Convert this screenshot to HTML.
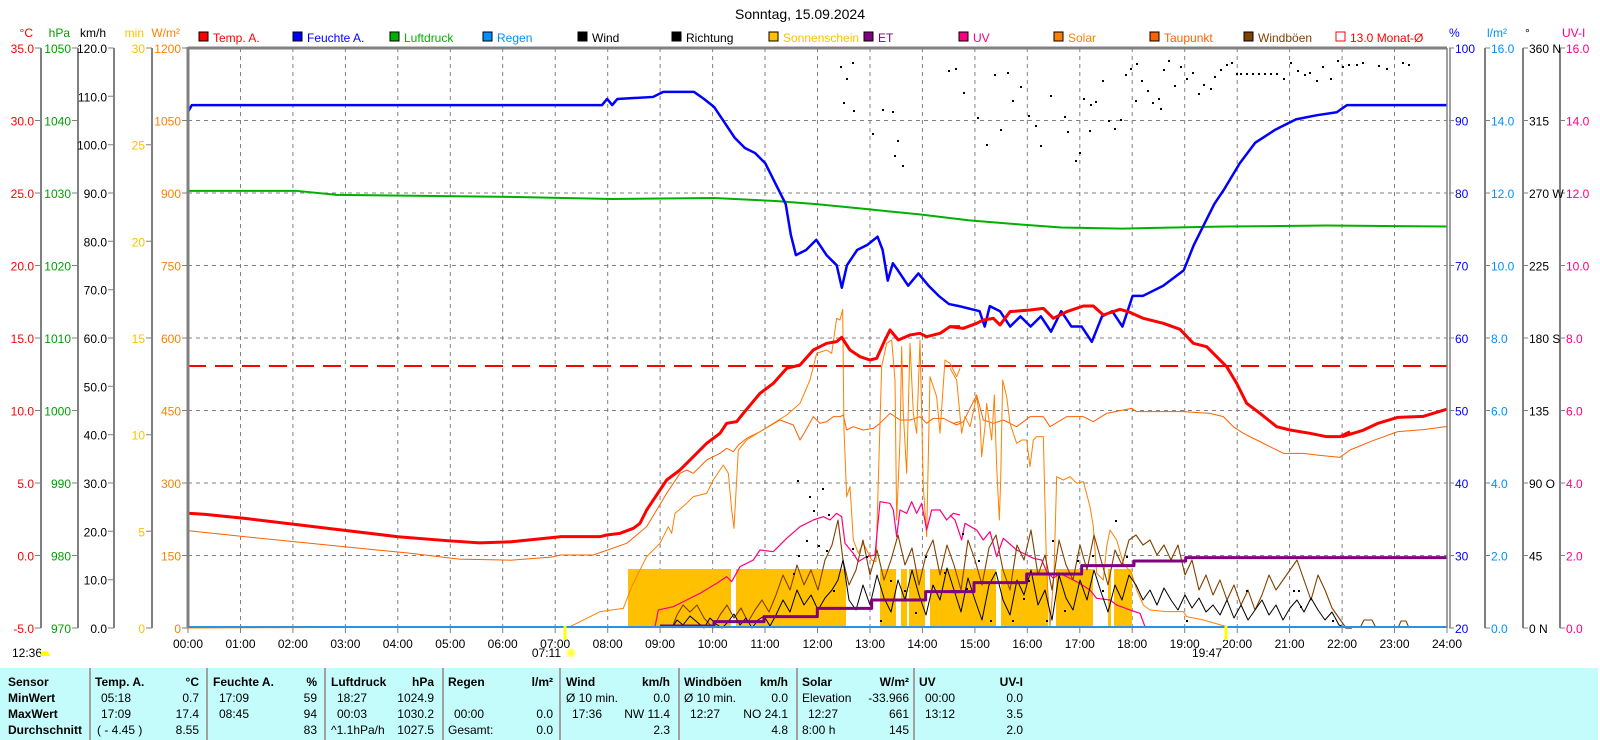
<!DOCTYPE html>
<html><head><meta charset="utf-8">
<style>
body{margin:0;background:#fff;width:1600px;height:740px;overflow:hidden;position:relative;font-family:"Liberation Sans",sans-serif;}
#tbl{position:absolute;left:0;top:668px;width:1598px;height:72px;background:#c4fcfc;}
.t{position:absolute;font-size:12px;white-space:nowrap;line-height:14px;color:#000}
.b{font-weight:bold}
.sep{position:absolute;top:0;width:2px;height:72px;background:#a0a0a0}
svg text{font-family:"Liberation Sans",sans-serif;font-size:12px}
polyline{fill:none;stroke-linejoin:round;vector-effect:non-scaling-stroke}
</style></head><body>
<svg width="1600" height="668" style="position:absolute;left:0;top:0">
<text x="800" y="19" text-anchor="middle" style="font-size:14px">Sonntag, 15.09.2024</text>
<g stroke="#000" stroke-width="1">
<rect x="199" y="32" width="9" height="9" fill="#ff0000"/><rect x="293" y="32" width="9" height="9" fill="#0000ff"/><rect x="390" y="32" width="9" height="9" fill="#00b000"/><rect x="483" y="32" width="9" height="9" fill="#0090ff"/><rect x="578" y="32" width="9" height="9" fill="#000"/><rect x="672" y="32" width="9" height="9" fill="#000"/><rect x="769" y="32" width="9" height="9" fill="#ffc000"/><rect x="864" y="32" width="9" height="9" fill="#800080"/><rect x="959" y="32" width="9" height="9" fill="#ff0080"/><rect x="1054" y="32" width="9" height="9" fill="#ff8000"/><rect x="1150" y="32" width="9" height="9" fill="#ff6000"/><rect x="1244" y="32" width="9" height="9" fill="#804000"/><rect x="1336" y="32" width="9" height="9" fill="#fff" stroke="#ff0000"/>
</g>
<text x="213" y="42" fill="#ff0000">Temp. A.</text><text x="307" y="42" fill="#0000ff">Feuchte A.</text><text x="404" y="42" fill="#00b000">Luftdruck</text><text x="497" y="42" fill="#0090ff">Regen</text><text x="592" y="42">Wind</text><text x="686" y="42">Richtung</text><text x="783" y="42" fill="#ffc000">Sonnenschein</text><text x="878" y="42" fill="#800080">ET</text><text x="973" y="42" fill="#ff0080">UV</text><text x="1068" y="42" fill="#ff8000">Solar</text><text x="1164" y="42" fill="#ff6000">Taupunkt</text><text x="1258" y="42" fill="#804000">Windböen</text><text x="1350" y="42" fill="#ff0000">13.0 Monat-Ø</text>

<g stroke="#808080" stroke-dasharray="4,4" stroke-width="1">
<path d="M188 120.5H1447M188 193H1447M188 265.5H1447M188 338H1447M188 410.5H1447M188 483H1447M188 555.5H1447"/>
<path d="M240.5 48V628M292.9 48V628M345.4 48V628M397.8 48V628M450.3 48V628M502.7 48V628M555.2 48V628M607.7 48V628M660.1 48V628M712.6 48V628M765 48V628M817.5 48V628M870 48V628M922.4 48V628M974.9 48V628M1027.3 48V628M1079.8 48V628M1132.2 48V628M1184.7 48V628M1237.2 48V628M1289.6 48V628M1342.1 48V628M1394.5 48V628"/>
</g>

<g stroke="#808080" stroke-width="2"><path d="M41 48V628M78 48V628M114 48V628M152 48V628M1485 48V628M1523 48V628M1560 48V628"/></g>
<g stroke="#808080" stroke-width="1">
<path d="M35 48H41M35 120.5H41M35 193H41M35 265.5H41M35 338H41M35 410.5H41M35 483H41M35 555.5H41M35 628H41"/>
<path d="M72 48H78M72 120.5H78M72 193H78M72 265.5H78M72 338H78M72 410.5H78M72 483H78M72 555.5H78M72 628H78"/>
<path d="M108 48H114M108 96.3H114M108 144.7H114M108 193H114M108 241.3H114M108 289.7H114M108 338H114M108 386.3H114M108 434.7H114M108 483H114M108 531.3H114M108 579.7H114M108 628H114"/>
<path d="M146 48H152M146 144.7H152M146 241.3H152M146 338H152M146 434.7H152M146 531.3H152M146 628H152"/>
<path d="M182 48H188M182 120.5H188M182 193H188M182 265.5H188M182 338H188M182 410.5H188M182 483H188M182 555.5H188M182 628H188"/>
<path d="M1449 48H1454M1449 120.5H1454M1449 193H1454M1449 265.5H1454M1449 338H1454M1449 410.5H1454M1449 483H1454M1449 555.5H1454M1449 628H1454"/>
<path d="M1485 48H1490M1485 120.5H1490M1485 193H1490M1485 265.5H1490M1485 338H1490M1485 410.5H1490M1485 483H1490M1485 555.5H1490M1485 628H1490"/>
<path d="M1523 48H1528M1523 120.5H1528M1523 193H1528M1523 265.5H1528M1523 338H1528M1523 410.5H1528M1523 483H1528M1523 555.5H1528M1523 628H1528"/>
<path d="M1560 48H1565M1560 120.5H1565M1560 193H1565M1560 265.5H1565M1560 338H1565M1560 410.5H1565M1560 483H1565M1560 555.5H1565M1560 628H1565"/>
<path d="M188 628v5M240.5 628v5M292.9 628v5M345.4 628v5M397.8 628v5M450.3 628v5M502.7 628v5M555.2 628v5M607.7 628v5M660.1 628v5M712.6 628v5M765 628v5M817.5 628v5M870 628v5M922.4 628v5M974.9 628v5M1027.3 628v5M1079.8 628v5M1132.2 628v5M1184.7 628v5M1237.2 628v5M1289.6 628v5M1342.1 628v5M1394.5 628v5M1447 628v5"/>
</g>
<g text-anchor="end">
<text x="33" y="37" fill="#ff0000">°C</text><text x="70" y="37" fill="#00a000">hPa</text><text x="106" y="37">km/h</text><text x="144" y="37" fill="#ffc000">min</text><text x="180" y="37" fill="#ff8000">W/m²</text>
<g fill="#ff0000"><text x="34" y="53">35.0</text><text x="34" y="125.5">30.0</text><text x="34" y="198">25.0</text><text x="34" y="270.5">20.0</text><text x="34" y="343">15.0</text><text x="34" y="415.5">10.0</text><text x="34" y="488">5.0</text><text x="34" y="560.5">0.0</text><text x="34" y="633">-5.0</text></g>
<g fill="#00a000"><text x="71" y="53">1050</text><text x="71" y="125.5">1040</text><text x="71" y="198">1030</text><text x="71" y="270.5">1020</text><text x="71" y="343">1010</text><text x="71" y="415.5">1000</text><text x="71" y="488">990</text><text x="71" y="560.5">980</text><text x="71" y="633">970</text></g>
<g fill="#000"><text x="107" y="53">120.0</text><text x="107" y="101.3">110.0</text><text x="107" y="149.7">100.0</text><text x="107" y="198">90.0</text><text x="107" y="246.3">80.0</text><text x="107" y="294.7">70.0</text><text x="107" y="343">60.0</text><text x="107" y="391.3">50.0</text><text x="107" y="439.7">40.0</text><text x="107" y="488">30.0</text><text x="107" y="536.3">20.0</text><text x="107" y="584.7">10.0</text><text x="107" y="633">0.0</text></g>
<g fill="#ffc000"><text x="145" y="53">30</text><text x="145" y="149.7">25</text><text x="145" y="246.3">20</text><text x="145" y="343">15</text><text x="145" y="439.7">10</text><text x="145" y="536.3">5</text><text x="145" y="633">0</text></g>
<g fill="#ff8000"><text x="181" y="53">1200</text><text x="181" y="125.5">1050</text><text x="181" y="198">900</text><text x="181" y="270.5">750</text><text x="181" y="343">600</text><text x="181" y="415.5">450</text><text x="181" y="488">300</text><text x="181" y="560.5">150</text><text x="181" y="633">0</text></g>
</g>
<text x="1449" y="37" fill="#0000ff">%</text><text x="1487" y="37" fill="#0090ff">l/m²</text><text x="1525" y="37">°</text><text x="1562" y="37" fill="#ff0080">UV-I</text>
<g fill="#0000ff"><text x="1455" y="53">100</text><text x="1455" y="125.5">90</text><text x="1455" y="198">80</text><text x="1455" y="270.5">70</text><text x="1455" y="343">60</text><text x="1455" y="415.5">50</text><text x="1455" y="488">40</text><text x="1455" y="560.5">30</text><text x="1455" y="633">20</text></g>
<g fill="#0090ff"><text x="1491" y="53">16.0</text><text x="1491" y="125.5">14.0</text><text x="1491" y="198">12.0</text><text x="1491" y="270.5">10.0</text><text x="1491" y="343">8.0</text><text x="1491" y="415.5">6.0</text><text x="1491" y="488">4.0</text><text x="1491" y="560.5">2.0</text><text x="1491" y="633">0.0</text></g>
<g fill="#000"><text x="1529" y="53">360 N</text><text x="1529" y="125.5">315</text><text x="1529" y="198">270 W</text><text x="1529" y="270.5">225</text><text x="1529" y="343">180 S</text><text x="1529" y="415.5">135</text><text x="1529" y="488">90  O</text><text x="1529" y="560.5">45</text><text x="1529" y="633">0   N</text></g>
<g fill="#ff0080"><text x="1566" y="53">16.0</text><text x="1566" y="125.5">14.0</text><text x="1566" y="198">12.0</text><text x="1566" y="270.5">10.0</text><text x="1566" y="343">8.0</text><text x="1566" y="415.5">6.0</text><text x="1566" y="488">4.0</text><text x="1566" y="560.5">2.0</text><text x="1566" y="633">0.0</text></g>
<g text-anchor="middle"><text x="188" y="648">00:00</text><text x="240.5" y="648">01:00</text><text x="292.9" y="648">02:00</text><text x="345.4" y="648">03:00</text><text x="397.8" y="648">04:00</text><text x="450.3" y="648">05:00</text><text x="502.7" y="648">06:00</text><text x="555.2" y="648">07:00</text><text x="607.7" y="648">08:00</text><text x="660.1" y="648">09:00</text><text x="712.6" y="648">10:00</text><text x="765" y="648">11:00</text><text x="817.5" y="648">12:00</text><text x="870" y="648">13:00</text><text x="922.4" y="648">14:00</text><text x="974.9" y="648">15:00</text><text x="1027.3" y="648">16:00</text><text x="1079.8" y="648">17:00</text><text x="1132.2" y="648">18:00</text><text x="1184.7" y="648">19:00</text><text x="1237.2" y="648">20:00</text><text x="1289.6" y="648">21:00</text><text x="1342.1" y="648">22:00</text><text x="1394.5" y="648">23:00</text><text x="1447" y="648">24:00</text></g>

<g fill="#ffc000">
<rect x="628" y="569" width="103" height="59"/><rect x="736" y="569" width="110" height="59"/><rect x="880" y="569" width="16" height="59"/><rect x="901" y="569" width="6" height="59"/><rect x="909" y="569" width="16" height="59"/><rect x="930" y="569" width="66" height="59"/><rect x="1001" y="569" width="47" height="59"/><rect x="1056" y="569" width="37" height="59"/><rect x="1108" y="569" width="3" height="59"/><rect x="1114" y="569" width="18" height="59"/>
</g>
<line x1="188" y1="366" x2="1447" y2="366" stroke="#ff0000" stroke-width="2" stroke-dasharray="18,9"/>

<g transform="scale(1.0204)">
<polyline stroke="#00b000" stroke-width="2" points="184,187 290,187 330,191 500,193 600,195 700,194 760,197 800,200 850,205 900,210 950,216 1000,220 1040,223 1100,224 1200,222 1300,221 1418,222"/>
<polyline stroke="#0000ff" stroke-width="2.5" points="184,110 188,103 590,103 595,97 600,103 605,97 640,95 650,90 680,90 690,97 700,105 710,120 720,135 730,145 740,150 750,160 760,180 770,200 775,230 780,250 790,245 800,235 810,250 820,260 825,282 830,260 840,245 850,240 860,232 865,245 870,275 875,258 880,265 890,280 900,268 910,280 920,290 930,298 940,300 960,305 965,320 970,300 980,305 990,320 1000,310 1010,320 1020,310 1030,325 1040,305 1050,320 1060,320 1070,335 1080,310 1090,305 1100,320 1110,290 1120,290 1140,280 1160,265 1170,240 1180,220 1190,200 1200,185 1215,160 1230,140 1250,127 1270,117 1290,113 1310,110 1320,103 1418,103"/>
<polyline stroke="#ff6000" stroke-width="1" points="184,520 250,527 300,532 350,537 400,542 450,548 500,549 540,546 549,544"/>
<polyline stroke="#ff6000" stroke-width="1" points="1323,441 1345,432 1370,423 1395,421 1418,418"/>
<polyline stroke="#ff0000" stroke-width="3" points="184,503 200,504 240,508 290,514 340,520 390,526 440,530 470,532 500,531 530,528 549,526"/>
<polyline stroke="#ff0000" stroke-width="3" points="1315,428 1335,422 1350,415 1370,409 1395,408 1418,401"/>
</g>

<g transform="translate(560,280) scale(0.33333)">
<polyline stroke="#ff6000" stroke-width="1" points="0,825 100,825 200,790 260,740 320,640 360,580 380,570 400,580 440,540 480,520 500,505 520,515 535,495 560,475 600,455 660,420 700,435 720,480 735,455 760,410 780,430 800,425 820,410 840,410 850,405 860,450 880,440 910,450 940,445 960,430 990,400 1020,420 1050,420 1080,410 1100,430 1120,415 1150,415 1180,430 1200,425"/>
<polyline stroke="#ff8000" stroke-width="1" points="-1116,1044 30,1040 120,995 190,985 215,920 260,830 300,790 325,740 335,760 345,700 380,670 400,650 440,640 460,600 490,555 505,580 515,690 522,745 530,600 535,510 560,480 600,455 640,430 680,405 720,370 750,300 770,220 800,210 815,220 830,115 840,120 848,88 852,450 860,650 870,620 880,780 895,820 910,790 920,810 935,840 948,845 955,600 965,260 980,190 995,180 1005,300 1010,720 1020,480 1025,200 1030,400 1040,580 1050,190 1060,400 1070,460 1080,180 1090,620 1100,770 1110,290 1130,350 1140,460 1155,240 1170,250 1190,290 1200,265"/>
<polyline stroke="#ff0080" stroke-width="1.2" points="285,1040 295,990 340,980 380,960 420,940 470,910 500,890 515,905 540,860 580,840 600,810 640,815 680,775 720,740 760,720 790,710 810,720 830,700 845,710 855,790 880,820 895,845 920,830 945,825 960,665 990,670 1000,690 1010,770 1020,690 1040,700 1055,665 1070,700 1085,670 1100,750 1115,690 1140,690 1160,720 1180,700 1200,705"/>
<polyline stroke="#ff0000" stroke-width="3" points="0,770 120,770 140,765 180,760 220,745 240,730 260,690 300,630 320,600 360,570 400,530 440,490 480,460 500,430 530,425 550,400 600,340 640,310 680,265 720,255 760,210 800,190 830,185 845,172 870,210 900,230 930,240 950,235 975,180 990,150 1015,180 1050,165 1080,160 1100,170 1140,160 1170,140 1200,140"/>
</g>
<g transform="translate(950,280) scale(0.33333)">
<polyline stroke="#ff6000" stroke-width="1" points="0,425 20,435 40,425 80,345 100,420 130,430 160,420 200,440 240,410 280,410 300,440 350,410 400,410 430,425 470,400 520,390 545,385 560,395 620,395 700,395 780,400 820,410 850,440 880,460 920,480 960,500 1000,520 1060,520 1100,525 1170,532 1200,510"/>
<polyline stroke="#ff8000" stroke-width="1" points="0,265 20,300 35,460 45,410 60,440 80,350 90,420 95,530 105,440 110,370 125,480 133,345 140,560 148,720 152,600 158,300 170,350 180,430 200,490 215,480 230,480 240,560 250,480 260,470 280,470 290,880 300,1040 312,880 320,590 340,600 360,590 380,610 400,605 420,680 430,740 440,880 460,900 470,800 480,750 500,780 520,850 545,880 560,930 580,975 600,990 650,995 700,995 710,1010 760,1020 830,1040"/>
<polyline stroke="#ff0080" stroke-width="1.2" points="0,705 15,720 35,780 45,730 80,750 100,780 120,755 140,830 160,775 200,810 230,825 250,835 275,840 290,875 310,895 330,880 380,905 420,930 440,955 480,960 500,975 540,990 570,1000 585,1040"/>
</g>

<polyline stroke="#804000" stroke-width="1.1" points="672,628 677,615 683,605 690,612 697,605 704,618 713,628 720,615 727,605 734,618 741,608 748,622 755,610 762,600 769,612 776,595 783,575 790,590 797,565 804,585 811,570 818,590 825,560 832,545 838,520 843,560 849,585 856,570 863,540 870,575 877,550 884,580 891,560 898,535 905,565 912,548 919,585 926,555 933,540 940,575 947,545 954,565 961,590 968,540 975,560 982,585 989,548 996,535 1003,570 1010,590 1017,545 1024,560 1031,530 1038,575 1045,555 1052,590 1059,540 1066,565 1073,580 1080,545 1087,570 1094,535 1101,560 1108,585 1115,550 1122,565 1129,540 1136,535 1143,545 1150,540 1157,555 1164,545 1171,560 1178,545 1185,575 1192,560 1199,590 1206,575 1213,595 1220,580 1227,600 1234,585 1241,605 1248,590 1255,610 1262,595 1269,575 1276,590 1283,580 1290,570 1297,560 1304,580 1311,600 1318,575 1325,590 1332,608 1339,618 1346,628 1352,628"/>
<polyline stroke="#804000" stroke-width="1.1" points="1360,628 1364,620 1372,620 1376,628"/>
<polyline stroke="#804000" stroke-width="1.1" points="1398,628 1401,621 1406,621 1409,628"/>
<polyline stroke="#000" stroke-width="1" points="672,628 677,620 683,625 690,616 697,622 704,628 710,618 716,624 722,628 728,622 734,614 740,625 746,618 752,628 758,620 764,616 770,626 776,615 783,600 790,612 797,590 804,605 811,595 818,610 825,598 832,590 838,580 843,560 849,600 856,610 863,585 870,605 877,575 884,598 891,612 898,580 905,600 912,570 919,595 926,615 933,585 940,600 947,568 954,590 961,612 968,578 975,600 982,620 989,585 996,572 1003,600 1010,615 1017,580 1024,595 1031,570 1038,605 1045,590 1052,620 1059,575 1066,598 1073,610 1080,580 1087,600 1094,570 1101,592 1108,612 1115,585 1122,600 1129,575 1136,585 1143,600 1150,590 1157,605 1164,588 1171,600 1178,610 1185,595 1192,608 1199,598 1206,612 1213,605 1220,615 1227,600 1234,618 1241,605 1248,620 1255,610 1262,600 1269,615 1276,605 1283,620 1290,608 1297,600 1304,612 1311,598 1318,610 1325,620 1332,612 1339,625 1346,628 1352,628"/>

<g transform="translate(560,280) scale(0.33333)">
<polyline stroke="#800080" stroke-width="3" points="300,1038 462,1038 462,1025 612,1025 612,1010 772,1010 772,985 935,985 935,960 1097,960 1097,935 1200,935"/>
</g>
<g transform="translate(950,280) scale(0.33333)">
<polyline stroke="#800080" stroke-width="3" points="0,935 72,935 72,908 230,908 230,882 395,882 395,857 552,857 552,843 707,843 707,833 1491,833"/>
<polyline stroke="#ff0000" stroke-width="3" points="0,140 40,145 80,130 100,120 130,115 150,135 180,95 240,90 280,85 310,115 350,95 400,78 430,78 460,105 510,88 540,97 580,115 640,130 690,148 730,190 770,200 800,230 830,260 860,310 890,370 930,400 980,440 1020,450 1080,460 1130,470 1170,470 1200,455"/>
</g>

<path fill="#000" d="M840 66h2v2h-2zM846 78h2v2h-2zM852 62h2v2h-2zM843 102h2v2h-2zM853 110h2v2h-2zM872 133h2v2h-2zM882 109h2v2h-2zM892 111h2v2h-2zM897 140h2v2h-2zM902 165h2v2h-2zM894 155h2v2h-2zM948 70h2v2h-2zM955 68h2v2h-2zM963 92h2v2h-2zM977 117h2v2h-2zM986 144h2v2h-2zM994 74h2v2h-2zM1000 129h2v2h-2zM1007 72h2v2h-2zM1012 100h2v2h-2zM1020 86h2v2h-2zM1028 115h2v2h-2zM1035 125h2v2h-2zM1040 145h2v2h-2zM1050 95h2v2h-2zM1067 131h2v2h-2zM1075 160h2v2h-2zM1079 152h2v2h-2zM1083 98h2v2h-2zM1090 104h2v2h-2zM1095 101h2v2h-2zM1102 80h2v2h-2zM1108 120h2v2h-2zM1114 128h2v2h-2zM1120 119h2v2h-2zM1125 74h2v2h-2zM1130 68h2v2h-2zM1136 63h2v2h-2zM1141 80h2v2h-2zM1147 90h2v2h-2zM1152 102h2v2h-2zM1158 98h2v2h-2zM1163 69h2v2h-2zM1168 60h2v2h-2zM1174 85h2v2h-2zM1180 66h2v2h-2zM1186 78h2v2h-2zM1192 72h2v2h-2zM1198 93h2v2h-2zM1203 84h2v2h-2zM1210 88h2v2h-2zM1214 76h2v2h-2zM1220 69h2v2h-2zM1226 64h2v2h-2zM1231 62h2v2h-2zM1236 73h2v2h-2zM1240 73h2v2h-2zM1246 73h2v2h-2zM1252 73h2v2h-2zM1258 73h2v2h-2zM1264 73h2v2h-2zM1270 73h2v2h-2zM1276 73h2v2h-2zM1283 78h2v2h-2zM1290 62h2v2h-2zM1297 70h2v2h-2zM1304 74h2v2h-2zM1309 72h2v2h-2zM1316 80h2v2h-2zM1322 66h2v2h-2zM1330 78h2v2h-2zM1337 60h2v2h-2zM1342 66h2v2h-2zM1348 64h2v2h-2zM1356 64h2v2h-2zM1362 62h2v2h-2zM1378 65h2v2h-2zM1386 68h2v2h-2zM1402 62h2v2h-2zM1408 64h2v2h-2zM1135 100h2v2h-2zM1160 108h2v2h-2zM1064 116h2v2h-2zM1089 130h2v2h-2z
M797 480h2v2h-2zM809 496h2v2h-2zM813 510h2v2h-2zM822 488h2v2h-2zM828 514h2v2h-2zM806 540h2v2h-2zM818 545h2v2h-2zM798 555h2v2h-2zM793 573h2v2h-2zM826 550h2v2h-2zM833 590h2v2h-2zM852 548h2v2h-2zM866 556h2v2h-2zM880 620h2v2h-2zM890 580h2v2h-2zM904 590h2v2h-2zM915 612h2v2h-2zM925 556h2v2h-2zM944 572h2v2h-2zM962 533h2v2h-2zM966 588h2v2h-2zM978 560h2v2h-2zM990 620h2v2h-2zM1012 620h2v2h-2zM1023 598h2v2h-2zM1028 580h2v2h-2zM1046 620h2v2h-2zM1052 540h2v2h-2zM1064 610h2v2h-2zM1077 560h2v2h-2zM1092 555h2v2h-2zM1102 590h2v2h-2zM1115 520h2v2h-2zM1126 556h2v2h-2zM1186 620h2v2h-2zM1293 590h2v2h-2zM1298 590h2v2h-2zM1332 620h2v2h-2zM1300 606h2v2h-2zM1246 590h2v2h-2z"/>

<line x1="188" y1="627" x2="1447" y2="627" stroke="#3090e0" stroke-width="2"/>
<path d="M188 48H1447" stroke="#808080" stroke-width="3"/>
<path d="M188 47V628" stroke="#808080" stroke-width="3"/>
<path d="M1447 48V628M1450 48V628" stroke="#808080" stroke-width="1.5"/>

<line x1="565" y1="626" x2="565" y2="640" stroke="#ffff00" stroke-width="3"/>
<line x1="1226" y1="626" x2="1226" y2="640" stroke="#ffff00" stroke-width="3"/>
<text x="561" y="657" text-anchor="end">07:11</text><circle cx="571" cy="653" r="4" fill="#ffff40" stroke="#ffffa0" stroke-width="2"/>
<text x="1222" y="657" text-anchor="end">19:47</text>
<text x="12" y="657">12:36</text><path d="M40 656a5 5 0 0 1 10 0z" fill="#ffff00"/>
</svg>

<div id="tbl">
<div class="sep" style="left:89px"></div><div class="sep" style="left:206px"></div><div class="sep" style="left:324px"></div><div class="sep" style="left:442px"></div><div class="sep" style="left:559px"></div><div class="sep" style="left:678px"></div><div class="sep" style="left:796px"></div><div class="sep" style="left:913px"></div>
<div class="t b" style="left:8px;top:7px">Sensor</div><div class="t b" style="left:8px;top:23px">MinWert</div><div class="t b" style="left:8px;top:39px">MaxWert</div><div class="t b" style="left:8px;top:55px">Durchschnitt</div>

<div class="t b" style="left:95px;top:7px">Temp. A.</div><div class="t b" style="right:1399px;top:7px">°C</div>
<div class="t" style="left:101px;top:23px">05:18</div><div class="t" style="right:1399px;top:23px">0.7</div>
<div class="t" style="left:101px;top:39px">17:09</div><div class="t" style="right:1399px;top:39px">17.4</div>
<div class="t" style="left:97px;top:55px">( - 4.45 )</div><div class="t" style="right:1399px;top:55px">8.55</div>

<div class="t b" style="left:213px;top:7px">Feuchte A.</div><div class="t b" style="right:1281px;top:7px">%</div>
<div class="t" style="left:219px;top:23px">17:09</div><div class="t" style="right:1281px;top:23px">59</div>
<div class="t" style="left:219px;top:39px">08:45</div><div class="t" style="right:1281px;top:39px">94</div>
<div class="t" style="right:1281px;top:55px">83</div>

<div class="t b" style="left:331px;top:7px">Luftdruck</div><div class="t b" style="right:1164px;top:7px">hPa</div>
<div class="t" style="left:337px;top:23px">18:27</div><div class="t" style="right:1164px;top:23px">1024.9</div>
<div class="t" style="left:337px;top:39px">00:03</div><div class="t" style="right:1164px;top:39px">1030.2</div>
<div class="t" style="left:331px;top:55px">^1.1hPa/h</div><div class="t" style="right:1164px;top:55px">1027.5</div>

<div class="t b" style="left:448px;top:7px">Regen</div><div class="t b" style="right:1045px;top:7px">l/m²</div>
<div class="t" style="left:454px;top:39px">00:00</div><div class="t" style="right:1045px;top:39px">0.0</div>
<div class="t" style="left:448px;top:55px">Gesamt:</div><div class="t" style="right:1045px;top:55px">0.0</div>

<div class="t b" style="left:566px;top:7px">Wind</div><div class="t b" style="right:928px;top:7px">km/h</div>
<div class="t" style="left:566px;top:23px">Ø 10 min.</div><div class="t" style="right:928px;top:23px">0.0</div>
<div class="t" style="left:572px;top:39px">17:36</div><div class="t" style="right:928px;top:39px">NW 11.4</div>
<div class="t" style="right:928px;top:55px">2.3</div>

<div class="t b" style="left:684px;top:7px">Windböen</div><div class="t b" style="right:810px;top:7px">km/h</div>
<div class="t" style="left:684px;top:23px">Ø 10 min.</div><div class="t" style="right:810px;top:23px">0.0</div>
<div class="t" style="left:690px;top:39px">12:27</div><div class="t" style="right:810px;top:39px">NO 24.1</div>
<div class="t" style="right:810px;top:55px">4.8</div>

<div class="t b" style="left:802px;top:7px">Solar</div><div class="t b" style="right:689px;top:7px">W/m²</div>
<div class="t" style="left:802px;top:23px">Elevation</div><div class="t" style="right:689px;top:23px">-33.966</div>
<div class="t" style="left:808px;top:39px">12:27</div><div class="t" style="right:689px;top:39px">661</div>
<div class="t" style="left:802px;top:55px">8:00 h</div><div class="t" style="right:689px;top:55px">145</div>

<div class="t b" style="left:919px;top:7px">UV</div><div class="t b" style="right:575px;top:7px">UV-I</div>
<div class="t" style="left:925px;top:23px">00:00</div><div class="t" style="right:575px;top:23px">0.0</div>
<div class="t" style="left:925px;top:39px">13:12</div><div class="t" style="right:575px;top:39px">3.5</div>
<div class="t" style="right:575px;top:55px">2.0</div>
</div>
</body></html>
